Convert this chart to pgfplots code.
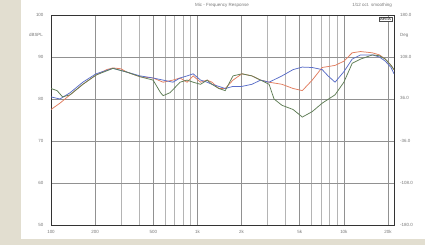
\documentclass[border=0pt]{standalone}
\usepackage{pgfplots}
\pgfplotsset{compat=1.18}
\usepackage{fontspec}
\setmainfont{Liberation Sans}
\definecolor{frame}{RGB}{226,222,208}
\definecolor{lbl}{RGB}{120,120,120}
\definecolor{cred}{RGB}{225,125,95}
\definecolor{cblue}{RGB}{90,110,200}
\definecolor{cgreen}{RGB}{95,125,85}
\definecolor{gmin}{RGB}{180,180,180}
\definecolor{gmaj}{RGB}{145,145,145}
\begin{document}
\begin{tikzpicture}[x=1bp,y=1bp]
\fill[frame] (0,0) rectangle (425,245);
\fill[white] (21,6) rectangle (425,245);
\begin{axis}[
  at={(51bp,20bp)}, anchor=south west,
  width=343bp, height=210bp, scale only axis,
  xmode=log, xmin=100, xmax=22000, ymin=50, ymax=100,
  ytick={50,60,70,80,90,100},
  yticklabels={50,60,70,80,90,100},
  xtick={100,200,500,1000,2000,5000,10000,20000},
  xticklabels={100,200,500,1k,2k,5k,10k,20k},
  minor xtick={300,400,600,700,800,900,3000,4000,6000,7000,8000,9000},
  log basis x=10,
  grid=both,
  major grid style={gmaj, line width=0.6pt},
  minor grid style={gmin, line width=0.6pt},
  axis line style={black!80, line width=0.9pt},
  tick style={draw=none},
  ticklabel style={font=\fontsize{4.5}{5}\selectfont, text=lbl},
  xticklabel style={yshift=-2bp},
  yticklabel style={xshift=-4bp},
  /pgf/number format/assume math mode=true,
  clip=true,
]
\addplot[cred, line width=0.75pt] coordinates {
(100,77.5)(115,79)(135,81)(165,83.5)(203,85.7)(240,87)(265,87.4)(300,87.2)(330,86.4)
(406,85.3)(498,85.0)(583,84)(680,84.5)(761,85)(850,84)(935,85.5)(1050,84)(1165,84.5)
(1256,84)(1400,82.5)(1548,82.5)(1750,84.5)(2013,86)(2355,85.5)(2700,84.5)(3086,84)
(3779,83.5)(4500,82.5)(5205,82)(6082,84.5)(7110,87.5)(8705,88)(10000,89)(11400,91)
(13000,91.3)(15650,91)(17500,90.5)(19200,89.5)(21000,88)(22000,87)};
\addplot[cblue, line width=0.75pt] coordinates {
(100,80.5)(115,80)(135,81.5)(165,84)(203,86)(265,87.3)(330,86.4)(406,85.5)(498,85)
(583,84.5)(680,84)(761,85)(850,85.5)(935,86)(1050,84.5)(1165,84)(1256,83.5)(1400,83)
(1548,82.5)(1750,83)(2013,83)(2355,83.5)(2700,84.5)(3086,84)(3779,85.5)(4500,87)
(5205,87.6)(6082,87.5)(7110,87)(7800,85.5)(8705,84)(10000,86.5)(11400,89.5)(13000,90.5)
(15650,90.5)(17500,90)(19200,89)(21000,87.5)(22000,86)};
\addplot[cgreen, line width=0.75pt] coordinates {
(100,82.5)(110,82)(120,80.5)(135,81)(165,83.5)(203,85.7)(265,87.3)(330,86.4)(406,85.3)
(498,84.5)(560,81.5)(583,80.8)(650,81.5)(761,84)(850,84.5)(935,84)(1050,83.5)(1165,84.5)
(1256,83.5)(1400,82.5)(1548,82)(1750,85.5)(2013,86)(2355,85.5)(2700,84.5)(3086,83.5)
(3335,80)(3779,78.5)(4500,77.5)(5205,75.7)(6082,77)(7110,79)(8705,81)(10000,84)
(11400,88.5)(13000,89.5)(15650,90.5)(17500,90.3)(19200,89.5)(21000,88)(22000,87)};
\end{axis}
\begin{scope}[every node/.style={font=\fontsize{4.5}{5}\selectfont, text=lbl, inner sep=0pt}]
\node at (36,210) {dBSPL};
\node[anchor=west] at (400,230) {180.0};
\node[anchor=west] at (400,210) {Deg};
\node[anchor=west] at (400,188) {108.0};
\node[anchor=west] at (400,147) {36.0};
\node[anchor=west] at (400,104) {-36.0};
\node[anchor=west] at (400,62) {-108.0};
\node[anchor=west] at (400,20) {-180.0};
\node at (222,240) {Mic - Frequency Response};
\node[anchor=east] at (392,240) {1/12 oct. smoothing};
\node[draw=black!70, fill=white, inner sep=0.8pt, anchor=north east, font=\fontsize{4}{4.5}\bfseries\selectfont, text=black!80] at (392,228) {ARTA};
\end{scope}
\end{tikzpicture}
\end{document}
